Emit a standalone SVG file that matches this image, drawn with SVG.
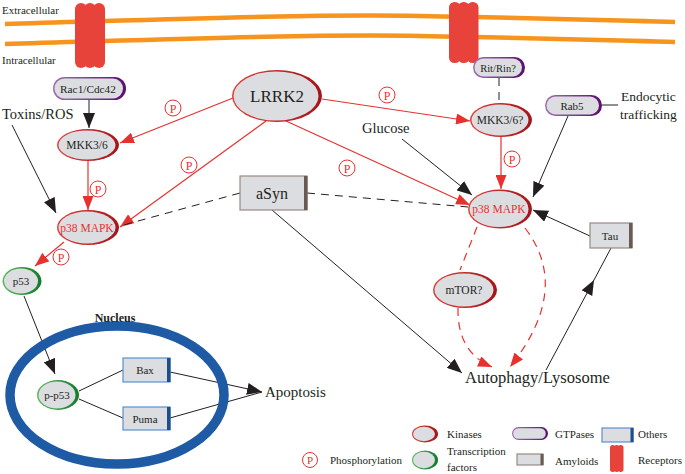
<svg xmlns="http://www.w3.org/2000/svg" width="685" height="474" viewBox="0 0 685 474">
<defs>
<style>
.t{font-family:"Liberation Serif","Times New Roman",serif;fill:#231f20}
.rt{font-family:"Liberation Serif","Times New Roman",serif;fill:#e8312f}
.gin{fill:#dcdde0}
.rl{stroke:#e8312f;stroke-width:1.2;fill:none}
.bl{stroke:#231f20;stroke-width:1;fill:none}
.rd{stroke:#e8312f;stroke-width:1.2;fill:none;stroke-dasharray:8,6}
.bd{stroke:#231f20;stroke-width:1;fill:none;stroke-dasharray:8,6}
.pc{fill:#fff;stroke:#e8312f;stroke-width:1}
.mem{stroke:#f7941d;stroke-width:4.5;fill:none}
.rec{fill:#e8433a}
.oth{fill:#dcdde0;stroke:#5b8fd0;stroke-width:1.2}
.othb{fill:#1c4f8a}
.amy{fill:#dcdde0;stroke:#9a8a82;stroke-width:1.2}
.amyb{fill:#6b5a52}
</style>
<linearGradient id="gk" x1="0" x2="1" y1="0" y2="0"><stop offset="0" stop-color="#e0403a"/><stop offset="1" stop-color="#a3141a"/></linearGradient>
<linearGradient id="gg" x1="0" x2="1" y1="0" y2="0"><stop offset="0" stop-color="#5cb85c"/><stop offset="1" stop-color="#137a2a"/></linearGradient>
<linearGradient id="gp" x1="0" x2="1" y1="0" y2="0"><stop offset="0" stop-color="#a070b0"/><stop offset="1" stop-color="#5a0d6e"/></linearGradient>
<marker id="ar" viewBox="0 0 14 11" refX="14" refY="5.5" markerWidth="14" markerHeight="11" markerUnits="userSpaceOnUse" orient="auto"><path d="M0,0 L14,5.5 L0,11 z" fill="#e8312f"/></marker>
<marker id="ab" viewBox="0 0 15 12" refX="15" refY="6" markerWidth="15" markerHeight="12" markerUnits="userSpaceOnUse" orient="auto"><path d="M0,0 L15,6 L0,12 z" fill="#231f20"/></marker>
</defs>
<rect width="685" height="474" fill="#fff"/>

<g id="membrane">
<path class="mem" d="M5,24 C150,20 300,14 420,16 S600,20 675,22"/>
<path class="mem" d="M5,44 C150,40 300,34 420,36 S600,40 675,42"/>
<text class="t" x="2" y="14" font-size="11">Extracellular</text>
<text class="t" x="2" y="64" font-size="11">Intracellular</text>
</g>
<g id="receptor1">
<rect class="rec" x="75" y="3" width="12" height="65" rx="6"/>
<rect class="rec" x="84" y="3" width="12" height="65" rx="6"/>
<rect class="rec" x="93" y="3" width="12" height="65" rx="6"/>
</g>
<g id="receptor2">
<rect class="rec" x="449" y="2" width="11.5" height="61" rx="5.5"/>
<rect class="rec" x="458" y="2" width="11.5" height="61" rx="5.5"/>
<rect class="rec" x="467" y="2" width="11.5" height="61" rx="5.5"/>
</g>

<g id="connectors">
<path class="bl" d="M89,100 L89,128" marker-end="url(#ab)"/>
<path class="bl" d="M12,125 L56,213" marker-end="url(#ab)"/>
<path class="rl" d="M233,98 L120,143" marker-end="url(#ar)"/>
<path class="rl" d="M266,121 L120,227" marker-end="url(#ar)"/>
<path class="rl" d="M322,99 L470,121" marker-end="url(#ar)"/>
<path class="rl" d="M286,121 L470,205" marker-end="url(#ar)"/>
<path class="rl" d="M88,161 L88,210" marker-end="url(#ar)"/>
<path class="rl" d="M64,242 L35,266" marker-end="url(#ar)"/>
<path class="bd" d="M499,78 L499,103"/>
<path class="rl" d="M501,137 L501,189" marker-end="url(#ar)"/>
<path class="bl" d="M568,116 L533,197" marker-end="url(#ab)"/>
<path class="bl" d="M602,105 L618,105"/>
<path class="bl" d="M402,139 L472,195" marker-end="url(#ab)"/>
<path class="bd" d="M240,193 L120,226"/>
<path class="bd" d="M307,193 L468,207"/>
<path class="bl" d="M590,236 L533,210" marker-end="url(#ab)"/>
<path class="bl" d="M272,210 L462,373" marker-end="url(#ab)"/>
<path class="rd" d="M477,227 L460,270"/>
<path class="rd" d="M458,308 Q457,352 492,367" marker-end="url(#ar)"/>
<path class="rd" d="M525,228 Q572,289 510,367" marker-end="url(#ar)"/>
<path class="bl" d="M546,370 L594,280" marker-end="url(#ab)"/>
<path class="bl" d="M594,280 L611,248"/>
<path class="bl" d="M24,296 L55,374" marker-end="url(#ab)"/>
<path class="bl" d="M79,391 L123,370"/>
<path class="bl" d="M79,399 L123,418"/>
<path class="bl" d="M170,372 L262,392" marker-end="url(#ab)"/>
<path class="bl" d="M170,418 L262,392"/>
</g>

<g id="phospho">
<circle class="pc" cx="173" cy="108" r="8"/><text class="rt" x="173" y="112.5" font-size="12" text-anchor="middle">P</text>
<circle class="pc" cx="189" cy="165" r="8"/><text class="rt" x="189" y="169.5" font-size="12" text-anchor="middle">P</text>
<circle class="pc" cx="98" cy="189" r="8"/><text class="rt" x="98" y="193.5" font-size="12" text-anchor="middle">P</text>
<circle class="pc" cx="61" cy="257" r="8"/><text class="rt" x="61" y="261.5" font-size="12" text-anchor="middle">P</text>
<circle class="pc" cx="347" cy="168" r="8"/><text class="rt" x="347" y="172.5" font-size="12" text-anchor="middle">P</text>
<circle class="pc" cx="387" cy="95" r="8"/><text class="rt" x="387" y="99.5" font-size="12" text-anchor="middle">P</text>
<circle class="pc" cx="512" cy="159" r="8"/><text class="rt" x="512" y="163.5" font-size="12" text-anchor="middle">P</text>
</g>

<g id="rac1">
<rect x="53" y="77" width="73" height="23" rx="11.5" fill="url(#gp)"/>
<rect class="gin" x="54.5" y="78.5" width="68.5" height="20" rx="10"/>
<text class="t" x="88" y="93" font-size="11.3" text-anchor="middle">Rac1/Cdc42</text>
</g>
<g id="toxins"><text class="t" x="2" y="119" font-size="14.5">Toxins/ROS</text></g>
<g id="mkk36">
<ellipse cx="88" cy="145" rx="31" ry="16" fill="url(#gk)"/>
<ellipse class="gin" cx="87" cy="145" rx="28.5" ry="14.5"/>
<text class="t" x="87" y="149" font-size="11.5" text-anchor="middle">MKK3/6</text>
</g>
<g id="p38left">
<ellipse cx="88" cy="227.5" rx="31" ry="17.5" fill="url(#gk)"/>
<ellipse class="gin" cx="87" cy="227.5" rx="28.5" ry="16"/>
<text class="rt" x="87" y="231.5" font-size="11.5" text-anchor="middle">p38 MAPK</text>
</g>
<g id="p53">
<ellipse cx="22" cy="281" rx="19.5" ry="14" fill="url(#gg)"/>
<ellipse class="gin" cx="21" cy="281" rx="17" ry="12.5"/>
<text class="t" x="21" y="285" font-size="11" text-anchor="middle">p53</text>
</g>
<g id="lrrk2">
<ellipse cx="277" cy="96" rx="45" ry="26" fill="url(#gk)"/>
<ellipse class="gin" cx="276" cy="96" rx="42.5" ry="24.5"/>
<text class="t" x="277" y="102" font-size="17" text-anchor="middle">LRRK2</text>
</g>
<g id="ritrin">
<rect x="473" y="57" width="52" height="21" rx="10.5" fill="url(#gp)"/>
<rect class="gin" x="474.5" y="58.5" width="47.5" height="18" rx="9"/>
<text class="t" x="498" y="71.5" font-size="10.5" text-anchor="middle">Rit/Rin?</text>
</g>
<g id="mkk36q">
<ellipse cx="501" cy="120" rx="31" ry="17" fill="url(#gk)"/>
<ellipse class="gin" cx="500" cy="120" rx="28.5" ry="15.5"/>
<text class="t" x="500" y="124" font-size="11.5" text-anchor="middle">MKK3/6?</text>
</g>
<g id="rab5">
<rect x="545" y="95" width="57" height="21" rx="10.5" fill="url(#gp)"/>
<rect class="gin" x="546.5" y="96.5" width="52.5" height="18" rx="9"/>
<text class="t" x="572" y="109.5" font-size="11" text-anchor="middle">Rab5</text>
</g>
<g id="endocytic">
<text class="t" x="621" y="101" font-size="13.5">Endocytic</text>
<text class="t" x="620" y="119" font-size="13.5">trafficking</text>
</g>
<g id="glucose"><text class="t" x="362" y="133" font-size="14.5">Glucose</text></g>
<g id="p38right">
<ellipse cx="500" cy="209" rx="32" ry="19.5" fill="url(#gk)"/>
<ellipse class="gin" cx="499" cy="209" rx="29.5" ry="18"/>
<text class="rt" x="499" y="213" font-size="11.5" text-anchor="middle">p38 MAPK</text>
</g>
<g id="asyn">
<rect class="amy" x="240" y="176" width="67" height="34"/>
<rect class="amyb" x="304" y="176" width="3.5" height="34"/>
<text class="t" x="272" y="199" font-size="16" text-anchor="middle">aSyn</text>
</g>
<g id="tau">
<rect class="amy" x="590" y="223" width="42" height="25"/>
<rect class="amyb" x="629" y="223" width="3.5" height="25"/>
<text class="t" x="610" y="240" font-size="11" text-anchor="middle">Tau</text>
</g>
<g id="mtor">
<ellipse cx="465" cy="290" rx="32" ry="18" fill="url(#gk)"/>
<ellipse class="gin" cx="464" cy="290" rx="29.5" ry="16.5"/>
<text class="t" x="464" y="294" font-size="11.5" text-anchor="middle">mTOR?</text>
</g>
<g id="autophagy"><text class="t" x="465" y="383" font-size="16.5">Autophagy/Lysosome</text></g>

<g id="nucleus">
<ellipse cx="117" cy="395" rx="107" ry="69" fill="none" stroke="#1f5aa5" stroke-width="9.5"/>
<text class="t" x="115" y="322" font-size="12" font-weight="bold" text-anchor="middle">Nucleus</text>
</g>
<g id="pp53">
<ellipse cx="58" cy="395" rx="21" ry="15" fill="url(#gg)"/>
<ellipse class="gin" cx="57" cy="395" rx="18.5" ry="13.5"/>
<text class="t" x="57" y="399" font-size="11" text-anchor="middle">p-p53</text>
</g>
<g id="bax">
<rect class="oth" x="123" y="358" width="47" height="24"/>
<rect class="othb" x="167" y="358" width="3.5" height="24"/>
<text class="t" x="145" y="374" font-size="11" text-anchor="middle">Bax</text>
</g>
<g id="puma">
<rect class="oth" x="123" y="407" width="47" height="23"/>
<rect class="othb" x="167" y="407" width="3.5" height="23"/>
<text class="t" x="145" y="422.5" font-size="11" text-anchor="middle">Puma</text>
</g>
<g id="apoptosis"><text class="t" x="265" y="397" font-size="15">Apoptosis</text></g>

<g id="legend">
<ellipse cx="425" cy="434" rx="13" ry="8.5" fill="url(#gk)"/>
<ellipse class="gin" cx="424" cy="434" rx="11" ry="7.2"/>
<text class="t" x="447" y="438" font-size="11">Kinases</text>
<rect x="512" y="427" width="36" height="13" rx="6.5" fill="url(#gp)"/>
<rect class="gin" x="513.2" y="428.2" width="32.5" height="10.6" rx="5.3"/>
<text class="t" x="555" y="438" font-size="11">GTPases</text>
<rect class="oth" x="602" y="428" width="31" height="14"/>
<rect class="othb" x="630.5" y="428" width="3" height="14"/>
<text class="t" x="638" y="438" font-size="11">Others</text>
<circle class="pc" cx="310" cy="460" r="7.5"/><text class="rt" x="310" y="464" font-size="11" text-anchor="middle">P</text>
<text class="t" x="330" y="464" font-size="11">Phosphorylation</text>
<ellipse cx="425" cy="460" rx="13" ry="9.5" fill="url(#gg)"/>
<ellipse class="gin" cx="424" cy="460" rx="11" ry="8.2"/>
<text class="t" x="447" y="455" font-size="11">Transcription</text>
<text class="t" x="447" y="471" font-size="11">factors</text>
<rect class="amy" x="517" y="454" width="26" height="11"/>
<rect class="amyb" x="540.5" y="454" width="3" height="11"/>
<text class="t" x="555" y="465" font-size="11">Amyloids</text>
<rect class="rec" x="610" y="445" width="5.5" height="27" rx="2.7"/>
<rect class="rec" x="614" y="445" width="5.5" height="27" rx="2.7"/>
<rect class="rec" x="618" y="445" width="5.5" height="27" rx="2.7"/>
<text class="t" x="638" y="464" font-size="11">Receptors</text>
</g>
</svg>
